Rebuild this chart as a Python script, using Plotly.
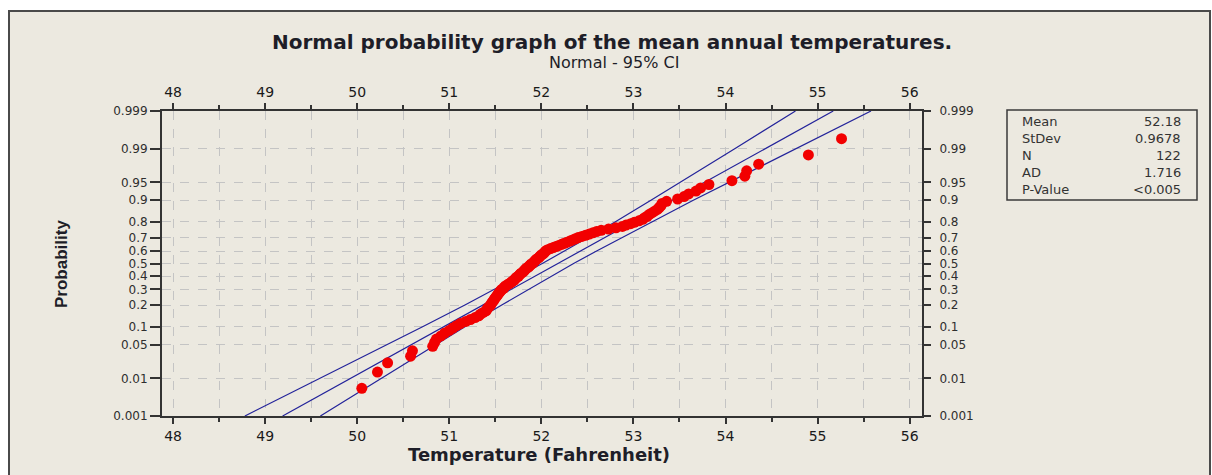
import plotly.graph_objects as go
from statistics import NormalDist

# ---------------- data ----------------
temps = [50.05, 50.22, 50.33, 50.58, 50.60, 50.82, 50.84, 50.86, 50.91, 50.95,
         51.00, 51.04, 51.08, 51.12, 51.18, 51.23, 51.28, 51.32, 51.34, 51.37,
         51.40, 51.41, 51.42, 51.44, 51.45, 51.46, 51.47, 51.48, 51.49, 51.50,
         51.51, 51.52, 51.53, 51.54, 51.55, 51.56, 51.57, 51.59, 51.60, 51.61,
         51.63, 51.65, 51.67, 51.68, 51.70, 51.71, 51.72, 51.73, 51.75, 51.76,
         51.77, 51.78, 51.80, 51.81, 51.82, 51.83, 51.84, 51.86, 51.87, 51.88,
         51.89, 51.91, 51.92, 51.93, 51.94, 51.95, 51.97, 51.98, 51.99, 52.00,
         52.02, 52.03, 52.04, 52.05, 52.07, 52.10, 52.13, 52.16, 52.19, 52.22,
         52.25, 52.28, 52.31, 52.34, 52.37, 52.40, 52.44, 52.48, 52.52, 52.56,
         52.60, 52.65, 52.73, 52.81, 52.88, 52.92, 52.97, 53.01, 53.06, 53.10,
         53.12, 53.15, 53.17, 53.20, 53.23, 53.26, 53.28, 53.30, 53.31, 53.36,
         53.48, 53.55, 53.60, 53.68, 53.73, 53.82, 54.07, 54.21, 54.23, 54.36,
         54.90, 55.26]

prob_ticks = [0.001, 0.01, 0.05, 0.1, 0.2, 0.3, 0.4, 0.5, 0.6, 0.7, 0.8, 0.9, 0.95, 0.99, 0.999]
prob_labels = ["0.001", "0.01", "0.05", "0.1", "0.2", "0.3", "0.4", "0.5", "0.6", "0.7",
               "0.8", "0.9", "0.95", "0.99", "0.999"]

# fitted line and 95% CI bounds, temperature at each probability level
fit_x = [49.19, 49.93, 50.59, 50.94, 51.37, 51.67, 51.94, 52.18, 52.43, 52.69,
         53.00, 53.42, 53.77, 54.43, 55.17]
ci_low_x = [48.78, 49.60, 50.33, 50.71, 51.17, 51.49, 51.76, 52.01, 52.25, 52.51,
            52.80, 53.19, 53.51, 54.10, 54.76]
ci_high_x = [49.60, 50.26, 50.85, 51.17, 51.57, 51.86, 52.11, 52.35, 52.60, 52.87,
             53.20, 53.65, 54.04, 54.76, 55.58]

x_ticks = [48, 49, 50, 51, 52, 53, 54, 55, 56]

stat_names = ["Mean", "StDev", "N", "AD", "P-Value"]
stat_values = ["52.18", "0.9678", "122", "1.716", "<0.005"]

title_text = "Normal probability graph of the mean annual temperatures."
subtitle_text = "Normal - 95% CI"
x_title = "Temperature (Fahrenheit)"
y_title = "Probability"

# ---------------- derived positions on the normal-probability scale ----------------
nd = NormalDist()
n = len(temps)
z_points = [nd.inv_cdf((i - 0.3) / (n + 0.4)) for i in range(1, n + 1)]
z_ticks = [nd.inv_cdf(p) for p in prob_ticks]

# ---------------- figure ----------------
W, H = 1212, 475
L, R, T, B = 162, 290, 111, 59
PW, PH = W - L - R, H - T - B


def px(xp):
    return (xp - L) / PW


def py(yp):
    return (H - B - yp) / PH


BG = "#ECE9E0"
AXC = "#333333"
GRID = "#C4C4C4"
BLUE = "#23239A"
FONT = "DejaVu Sans"

fig = go.Figure()
for xs in (ci_low_x, fit_x, ci_high_x):
    fig.add_trace(go.Scatter(x=xs, y=z_ticks, mode="lines",
                             line=dict(color=BLUE, width=1.2),
                             hoverinfo="skip", showlegend=False,
                             xaxis="x", yaxis="y"))
fig.add_trace(go.Scatter(x=temps, y=z_points, mode="markers",
                         marker=dict(color="#F20000", size=11, line=dict(width=0)),
                         showlegend=False, xaxis="x2", yaxis="y2"))

xr = [47.88, 56.134]
yr = [z_ticks[0], z_ticks[-1]]

xcommon = dict(range=xr, tickmode="array", tickvals=x_ticks,
               ticks="outside", ticklen=6, tickwidth=1.5, tickcolor=AXC,
               showline=True, linecolor=AXC, linewidth=2, zeroline=False,
               tickfont=dict(family=FONT, size=14, color="#1A1A1A"),
               fixedrange=True)
ycommon = dict(range=yr, tickmode="array", tickvals=z_ticks, ticktext=prob_labels,
               ticks="outside", tickwidth=1.5, tickcolor=AXC,
               showline=True, linecolor=AXC, linewidth=2, zeroline=False,
               tickfont=dict(family=FONT, size=12, color="#2E2E2E"),
               fixedrange=True)

fig.update_layout(
    width=W, height=H,
    margin=dict(l=L, r=R, t=T, b=B, pad=0),
    paper_bgcolor="white", plot_bgcolor="white",
    showlegend=False,
    xaxis=dict(**xcommon, side="bottom", showgrid=True, gridcolor=GRID,
               griddash="dash", gridwidth=1,
               minor=dict(dtick=0.5, tick0=48, ticks="outside", ticklen=4,
                          tickwidth=1.5, tickcolor=AXC, showgrid=True,
                          gridcolor=GRID, griddash="dash", gridwidth=1)),
    xaxis2=dict(**xcommon, side="top", overlaying="x", showgrid=False,
                minor=dict(dtick=0.5, tick0=48, ticks="outside", ticklen=4,
                           tickwidth=1.5, tickcolor=AXC, showgrid=False)),
    yaxis=dict(**ycommon, side="left", ticklen=10, showgrid=True, gridcolor=GRID,
               griddash="dash", gridwidth=1),
    yaxis2=dict(**ycommon, side="right", overlaying="y", ticklen=7, showgrid=False,
                ticklabelstandoff=6),
)

shapes = [
    # beige panel with frame
    dict(type="rect", xref="paper", yref="paper", layer="below",
         x0=px(9), x1=px(1210), y0=py(490), y1=py(11),
         fillcolor=BG, line=dict(color="#4A4A4A", width=2)),
    # statistics box
    dict(type="rect", xref="paper", yref="paper",
         x0=px(1007), x1=px(1197), y0=py(200), y1=py(110),
         fillcolor=BG, line=dict(color="#3A3A3A", width=1.5)),
]

annotations = [
    dict(text="<b>" + title_text + "</b>", xref="paper", yref="paper",
         x=px(612), y=py(42), xanchor="center", yanchor="middle", showarrow=False,
         font=dict(family=FONT, size=20, color="#1E1E28")),
    dict(text=subtitle_text, xref="paper", yref="paper",
         x=px(614), y=py(63), xanchor="center", yanchor="middle", showarrow=False,
         font=dict(family=FONT, size=16, color="#1E1E28")),
    dict(text="<b>" + x_title + "</b>", xref="paper", yref="paper",
         x=px(539), y=py(454), xanchor="center", yanchor="middle", showarrow=False,
         font=dict(family=FONT, size=18, color="#1E1E28")),
    dict(text="<b>" + y_title + "</b>", xref="paper", yref="paper",
         x=px(61), y=py(264), xanchor="center", yanchor="middle", showarrow=False,
         textangle=-90, font=dict(family="Liberation Sans", size=17, color="#1E1E28")),
]

row_y = [121.7, 138.7, 155.7, 172.7, 189.7]
for name, val, yy in zip(stat_names, stat_values, row_y):
    annotations.append(dict(text=name, xref="paper", yref="paper", x=px(1020), y=py(yy),
                            xanchor="left", yanchor="middle", showarrow=False,
                            font=dict(family=FONT, size=13, color="#333333")))
    annotations.append(dict(text=val, xref="paper", yref="paper", x=px(1183), y=py(yy),
                            xanchor="right", yanchor="middle", showarrow=False,
                            font=dict(family=FONT, size=13, color="#333333")))

fig.update_layout(shapes=shapes, annotations=annotations)

fig.write_html("out.html", config={"displayModeBar": False},
               post_script="document.body.style.margin='0px';")
